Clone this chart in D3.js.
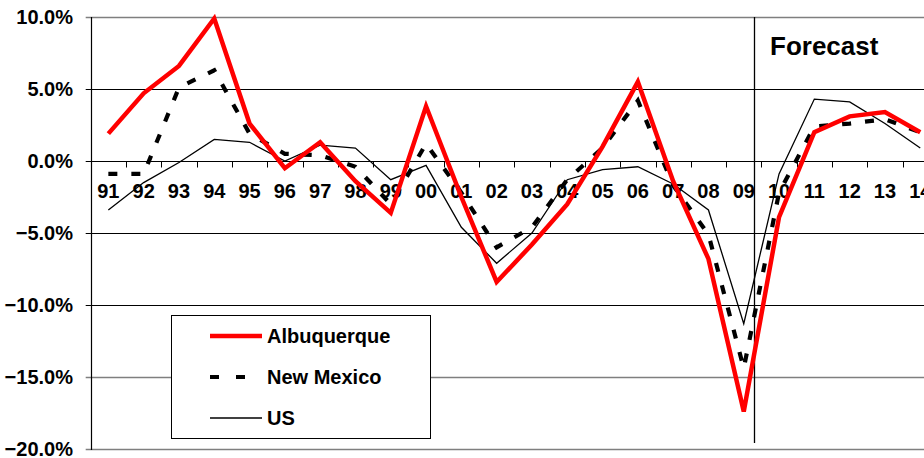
<!DOCTYPE html>
<html>
<head>
<meta charset="utf-8">
<script src="https://cdn.jsdelivr.net/npm/d3@7"></script>
<style>
  html, body { margin: 0; padding: 0; background: #fff; }
  svg { display: block; font-family: "Liberation Sans", Arial, sans-serif; font-weight: bold; }
</style>
</head>
<body>
<svg id="chart" width="924" height="458"></svg>
<script>
// ---- data ----
const categories = ["91","92","93","94","95","96","97","98","99","00","01","02","03","04","05","06","07","08","09","10","11","12","13","14"];
const albuquerque = [1.9, 4.7, 6.6, 9.9, 2.6, -0.5, 1.3, -1.4, -3.6, 3.8, -2.5, -8.4, -5.8, -3.0, 1.0, 5.5, -1.4, -6.8, -17.4, -3.9, 2.0, 3.1, 3.4, 2.0];
const newMexico   = [-0.9, -0.9, 5.1, 6.3, 1.9, 0.5, 0.4, -0.4, -3.0, 1.2, -2.2, -6.0, -4.6, -1.3, 0.9, 4.2, -1.7, -5.1, -14.4, -2.2, 2.4, 2.6, 2.9, 2.0];
const us          = [-3.4, -1.5, -0.1, 1.5, 1.3, 0.0, 1.1, 0.9, -1.3, -0.3, -4.6, -7.1, -5.0, -1.3, -0.6, -0.4, -1.6, -3.4, -11.3, -0.9, 4.3, 4.1, 2.6, 0.9];
const yTicks = [10, 5, 0, -5, -10, -15, -20];
const seriesNames = ["Albuquerque", "New Mexico", "US"];
const forecastAfter = "09";
const forecastLabel = "Forecast";

// ---- layout ----
const svg = d3.select("#chart");
const left = 90.7, bandW = 35.3;
const x = d3.scaleBand().domain(categories).range([left, left + bandW * categories.length]).padding(0);
const y = d3.scaleLinear().domain([-20, 10]).range([449, 17]);
const rightEdge = 924;

// gridlines
const grayTicks = new Set([10, -15, -20]);
svg.append("g").selectAll("line").data(yTicks).join("line")
  .attr("x1", left - 5).attr("x2", rightEdge)
  .attr("y1", d => Math.round(y(d)) + 0.5).attr("y2", d => Math.round(y(d)) + 0.5)
  .attr("stroke", d => grayTicks.has(d) ? "#7f7f7f" : "#000")
  .attr("stroke-width", d => grayTicks.has(d) ? 1.6 : 1);

// y axis line
svg.append("line").attr("x1", Math.round(left) + 0.5).attr("x2", Math.round(left) + 0.5)
  .attr("y1", y(10)).attr("y2", y(-20) + 1).attr("stroke", "#000").attr("stroke-width", 1.2);

// y labels
svg.append("g").selectAll("text").data(yTicks).join("text")
  .attr("x", 73).attr("y", d => y(d)).attr("dy", "0.36em")
  .attr("text-anchor", "end").attr("font-size", 20).attr("fill", "#000")
  .text(d => d3.format(".1f")(d) + "%");

// x axis ticks (at band boundaries) on 0 line
const zeroY = Math.round(y(0)) + 0.5;
svg.append("g").selectAll("line").data(categories.slice(1)).join("line")
  .attr("x1", d => Math.round(x(d)) + 0.5).attr("x2", d => Math.round(x(d)) + 0.5)
  .attr("y1", zeroY).attr("y2", zeroY + 6)
  .attr("stroke", "#000").attr("stroke-width", 1);

// x labels
svg.append("g").selectAll("text").data(categories).join("text")
  .attr("x", d => x(d) + x.bandwidth() / 2).attr("y", 198)
  .attr("text-anchor", "middle").attr("font-size", 20).attr("fill", "#000")
  .text(d => d);

// forecast divider
const fx = Math.round(x(forecastAfter) + x.bandwidth() * 0.79) + 0.5;
svg.append("line").attr("x1", fx).attr("x2", fx).attr("y1", y(10)).attr("y2", 443)
  .attr("stroke", "#000").attr("stroke-width", 1.3);
svg.append("text").attr("x", 770).attr("y", 55).attr("font-size", 26).attr("fill", "#000")
  .text(forecastLabel);

// lines
const lineGen = d3.line().x((d, i) => x(categories[i]) + x.bandwidth() / 2).y(d => y(d));
const styles = [
  { data: us, color: "#000", width: 1.3, dash: null },
  { data: newMexico, color: "#000", width: 4.2, dash: "9,14" },
  { data: albuquerque, color: "#ff0000", width: 4.5, dash: null }
];
styles.forEach(s => {
  svg.append("path").datum(s.data).attr("d", lineGen)
    .attr("fill", "none").attr("stroke", s.color).attr("stroke-width", s.width)
    .attr("stroke-dasharray", s.dash).attr("stroke-linejoin", "miter");
});

// legend
const lg = svg.append("g");
lg.append("rect").attr("x", 171.5).attr("y", 315.5).attr("width", 259).attr("height", 123)
  .attr("fill", "#fff").attr("stroke", "#000").attr("stroke-width", 1);
const legendItems = [
  { name: seriesNames[0], color: "#ff0000", width: 4.5, dash: null, yy: 336 },
  { name: seriesNames[1], color: "#000", width: 4.2, dash: "9,17", yy: 377 },
  { name: seriesNames[2], color: "#000", width: 1.3, dash: null, yy: 418 }
];
legendItems.forEach(it => {
  lg.append("line").attr("x1", 210).attr("x2", 262).attr("y1", it.yy).attr("y2", it.yy)
    .attr("stroke", it.color).attr("stroke-width", it.width).attr("stroke-dasharray", it.dash);
  lg.append("text").attr("x", 267).attr("y", it.yy).attr("dy", "0.36em")
    .attr("font-size", 20).attr("fill", "#000").text(it.name);
});
</script>
</body>
</html>
